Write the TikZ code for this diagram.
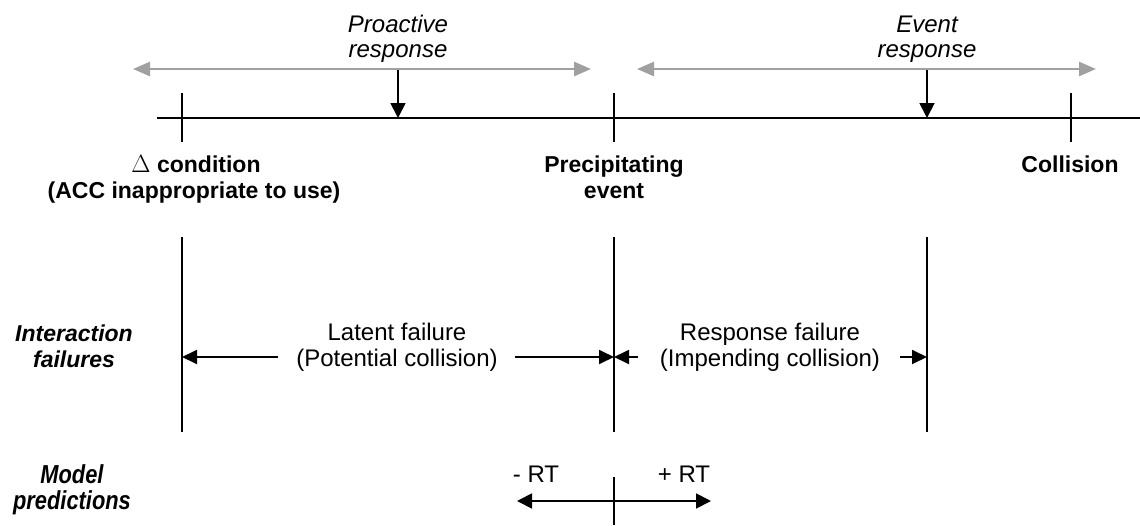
\documentclass[tikz,border=0pt]{standalone}
\usepackage{fontspec}
\setmainfont{Liberation Sans}
\newfontfamily\narrowsans[FakeStretch=0.84]{Liberation Sans}
\usetikzlibrary{arrows.meta}
\definecolor{spanGray}{HTML}{A0A0A0}
\begin{document}
\begin{tikzpicture}[x=1pt,y=-1pt,
  % multi-line nodes are placed by the baseline of their last line
  txt/.style={inner sep=0pt,align=center,anchor=base,font=\fontsize{24}{26}\selectfont},
  bl/.style={txt,font=\fontsize{23}{26}\selectfont\bfseries},
  bi/.style={txt,font=\fontsize{23}{26}\selectfont\bfseries\itshape},
  nbi/.style={txt,font=\fontsize{26}{26}\selectfont\narrowsans\bfseries\itshape},
  it/.style={txt,font=\fontsize{24}{25}\selectfont\itshape},
  rule/.style={line width=1.8pt,black},
  span/.style={line width=2.6pt,spanGray,{Triangle[length=17pt,width=14pt]}-{Triangle[length=17pt,width=14pt]}},
  point/.style={line width=1.8pt,-{Triangle[length=15pt,width=15pt]}},
  bar/.style={line width=1.8pt,-{Triangle[length=15pt,width=14pt]}},
  both/.style={line width=1.8pt,{Triangle[length=15pt,width=15pt]}-{Triangle[length=15pt,width=15pt]}}]
\useasboundingbox (0,0) rectangle (1140,525);

% time line and its ticks
\coordinate (tl0) at (157,118);
\coordinate (tl1) at (1140,118);
\draw[rule] (tl0) -- (tl1);
\coordinate (t1a) at (182,93);  \coordinate (t1b) at (182,142);
\coordinate (t2a) at (614,93);  \coordinate (t2b) at (614,142);
\coordinate (t3a) at (1071,93); \coordinate (t3b) at (1071,142);
\draw[rule] (t1a) -- (t1b);
\draw[rule] (t2a) -- (t2b);
\draw[rule] (t3a) -- (t3b);

% response windows
\node[it] (pro) at (398,57) {Proactive\\response};
\node[it] (evr) at (927,57) {Event\\response};
\coordinate (s1a) at (133,69); \coordinate (s1b) at (591,69);
\coordinate (s2a) at (637,69); \coordinate (s2b) at (1096,69);
\draw[span] (s1a) -- (s1b);
\draw[span] (s2a) -- (s2b);
\coordinate (d1a) at (398,70); \coordinate (d1b) at (398,118);
\coordinate (d2a) at (927,70); \coordinate (d2b) at (927,118);
\draw[point] (d1a) -- (d1b);
\draw[point] (d2a) -- (d2b);

% event labels
\node[bl] (cond) at (196,172) {$\Delta$ condition};
\node[bl] (acc) at (194,198) {(ACC inappropriate to use)};
\node[bl] (prec) at (614,198) {Precipitating\\event};
\node[bl] (coll) at (1070,172) {Collision};

% interaction failures
\node[bi] (intf) at (74,367) {Interaction\\failures};
\coordinate (v1a) at (182,237); \coordinate (v1b) at (182,432);
\coordinate (v2a) at (614,237); \coordinate (v2b) at (614,432);
\coordinate (v3a) at (927,237); \coordinate (v3b) at (927,432);
\draw[rule] (v1a) -- (v1b);
\draw[rule] (v2a) -- (v2b);
\draw[rule] (v3a) -- (v3b);
\node[txt] (lat) at (397,366) {Latent failure\\(Potential collision)};
\node[txt] (rsp) at (770,366) {Response failure\\(Impending collision)};
\coordinate (a1) at (278,357); \coordinate (a1t) at (182,357);
\coordinate (a2) at (515,357); \coordinate (a2t) at (614,357);
\coordinate (a3) at (638,357); \coordinate (a3t) at (614,357);
\coordinate (a4) at (900,357); \coordinate (a4t) at (927,357);
\draw[bar] (a1) -- (a1t);
\draw[bar] (a2) -- (a2t);
\draw[bar] (a3) -- (a3t);
\draw[bar] (a4) -- (a4t);

% model predictions
\node[nbi] (mod) at (72,509) {Model\\predictions};
\node[txt] (mrt) at (536,482) {- RT};
\node[txt] (prt) at (684,482) {+ RT};
\coordinate (r0) at (517,501); \coordinate (r1) at (711,501);
\draw[both] (r0) -- (r1);
\coordinate (k0) at (614,477); \coordinate (k1) at (614,525);
\draw[rule] (k0) -- (k1);
\end{tikzpicture}
\end{document}
